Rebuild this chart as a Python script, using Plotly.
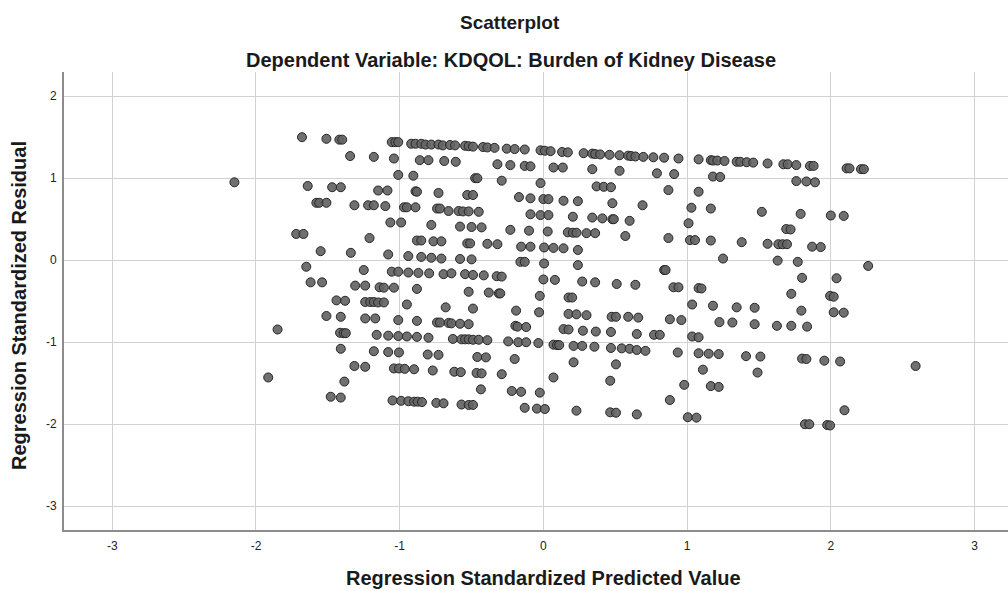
import plotly.graph_objects as go

pred = [
    -2.15,
    -1.68, -1.51, -1.42, -1.40, -1.055, -1.03, -1.01, -0.92, -0.89, -0.85, -0.82, -0.78, -0.73, -0.70,
    -1.345, -1.18, -1.04, -0.86, -0.80, -0.69, -0.61,
    -1.01, -0.905,
    -1.64, -1.47, -1.41, -1.15, -1.085, -0.89, -0.88, -0.73,
    -1.58, -1.56, -1.51, -1.315, -1.22, -1.18, -1.10, -0.97, -0.95, -0.89, -0.74, -0.72,
    -1.065, -0.99, -0.78,
    -1.72, -1.67, -1.21, -0.88, -0.85, -0.765, -0.71,
    -1.55, -1.34, -1.08, -0.94, -0.85, -0.78, -0.71,
    -1.65, -1.25, -1.055, -1.01, -0.94, -0.87, -0.795, -0.695,
    -1.62, -1.54,
    -0.65, -0.615, -0.545, -0.52, -0.49, -0.42, -0.39, -0.34, -0.255, -0.20, -0.13, -0.02, 0.01, 0.05,
    0.13, 0.17, 0.28, 0.34, 0.36, 0.395, 0.46, 0.53, 0.59,
    -0.32, -0.23, -0.13, -0.09, 0.07, 0.135, 0.34, 0.53,
    -0.475, -0.46, -0.29, -0.02, 0.37, 0.42, 0.47,
    -0.53, -0.49, -0.17, -0.09, 0.0, 0.035, 0.14, 0.24, 0.48,
    -0.66, -0.59, -0.56, -0.52, -0.45, -0.09, -0.02, 0.035, 0.205, 0.34, 0.41, 0.48, 0.49, 0.60,
    -0.58, -0.50, -0.43, -0.23, -0.10, 0.03, 0.17, 0.205, 0.23, 0.30, 0.36, 0.57,
    -0.53, -0.51, -0.39, -0.32, -0.155, -0.09, 0.005, 0.07, 0.14, 0.24,
    -0.58, -0.50, -0.16, -0.13, 0.005, 0.24,
    -0.64, -0.545, -0.49, -0.415, -0.325, -0.29, 0.0, 0.08, 0.27, 0.36, 0.51,
    0.61, 0.64, 0.695, 0.765, 0.84, 0.94, 1.08, 1.165, 1.18, 1.21, 1.26, 1.345, 1.37, 1.415, 1.46,
    1.56, 1.67, 1.70, 1.76, 1.855, 1.88, 2.11, 2.13, 2.21, 2.23,
    0.79, 0.91, 1.18, 1.23, 1.76, 1.83, 1.89,
    0.87, 1.08,
    0.69, 1.03, 1.165, 1.52, 1.79, 2.0, 2.09,
    1.01, 1.69, 1.72,
    0.87, 1.02, 1.055, 1.165, 1.38, 1.56, 1.635, 1.665, 1.695, 1.87, 1.93,
    1.25, 1.63, 1.77, 2.26, 0.84, 0.85, 1.80, 2.04,
    -1.31, -1.24, -1.14, -1.11, -1.04, -0.88,
    -1.44, -1.38, -1.24, -1.205, -1.18, -1.15, -1.11, -0.95, -0.68,
    -1.51, -1.41, -1.24, -1.17, -1.01, -0.88, -0.74, -0.72, -0.66, -0.64, -0.58, -0.52,
    -1.85,
    -1.415, -1.39, -1.375, -1.16, -1.08, -1.01, -0.95, -0.88, -0.80,
    -0.63, -0.57, -0.545, -0.52, -0.49, -0.45, -0.39, -0.245, -0.175, -0.12, -0.035, 0.07, 0.095, 0.11,
    0.21, 0.27, 0.355, 0.47, 0.545, 0.60, 0.65, 0.71, 0.935, 1.08, 1.15, 1.22, 1.41, 1.51, 1.80, 1.83,
    1.955, 2.065, 2.59,
    -1.41, -1.18, -1.08, -1.005, -0.805, -0.73, -0.46, -0.40, -0.20, 0.21, 0.505, 1.11, 1.49,
    -1.315, -1.24, -1.04, -1.005, -0.965, -0.90, -0.77, -0.62, -0.575, -0.465, -0.43, -0.29, 0.07, 0.465,
    -1.915, -1.385,
    0.98, 1.165, 1.22, 0.88, 0.65, 1.005, 1.065, 1.82, 1.85, 1.975, 1.995, 2.095,
    -0.435, -0.22, -0.155, -0.025,
    -1.48, -1.41, -1.05, -0.99, -0.94, -0.90, -0.875, -0.845, -0.745, -0.695, -0.57, -0.52, -0.49,
    -0.13, -0.045, 0.01, 0.23, 0.465, 0.505,
    -0.52, -0.38, -0.31, -0.30, -0.025, 0.175, 0.20,
    -0.49, -0.19, -0.03, 0.175, 0.23, 0.30, 0.475, 0.505, 0.59, 0.66,
    0.88, 0.96, 1.225, 1.315, 1.47, 1.625, 1.725, 1.835,
    -0.195, -0.18, -0.12, 0.14, 0.175, 0.275, 0.365, 0.47, 0.65, 0.77, 0.81, 1.035, 1.08,
    0.64, 0.905, 0.94, 1.08, 1.10, 1.035, 1.18, 1.345, 1.47, 1.725, 1.795,
    1.995, 2.02, 2.02, 2.09,
]

resid = [
    0.95,
    1.50, 1.48, 1.47, 1.47, 1.44, 1.44, 1.44, 1.42, 1.42, 1.42, 1.41, 1.41, 1.41, 1.40,
    1.27, 1.26, 1.24, 1.22, 1.22, 1.21, 1.20,
    1.04, 1.03,
    0.905, 0.89, 0.89, 0.85, 0.85, 0.84, 0.835, 0.82,
    0.70, 0.70, 0.70, 0.67, 0.67, 0.67, 0.66, 0.645, 0.645, 0.645, 0.63, 0.63,
    0.46, 0.46, 0.43,
    0.32, 0.32, 0.27, 0.24, 0.24, 0.23, 0.23,
    0.11, 0.09, 0.07, 0.05, 0.04, 0.03, 0.02,
    -0.08, -0.12, -0.14, -0.14, -0.15, -0.155, -0.16, -0.17,
    -0.27, -0.27,
    1.405, 1.40, 1.395, 1.39, 1.385, 1.38, 1.375, 1.37, 1.36, 1.355, 1.35, 1.34, 1.335, 1.33,
    1.32, 1.315, 1.305, 1.30, 1.295, 1.29, 1.285, 1.28, 1.275,
    1.17, 1.16, 1.15, 1.145, 1.13, 1.13, 1.11, 1.09,
    1.00, 1.00, 0.97, 0.94, 0.90, 0.895, 0.89,
    0.795, 0.795, 0.77, 0.755, 0.745, 0.745, 0.725, 0.72, 0.695,
    0.60, 0.60, 0.595, 0.595, 0.59, 0.56, 0.55, 0.55, 0.53, 0.52, 0.51, 0.50, 0.50, 0.48,
    0.41, 0.405, 0.40, 0.37, 0.36, 0.35, 0.34, 0.335, 0.335, 0.33, 0.33, 0.295,
    0.205, 0.205, 0.20, 0.195, 0.165, 0.165, 0.155, 0.15, 0.145, 0.125,
    0.015, 0.01, -0.02, -0.02, -0.04, -0.06,
    -0.16, -0.17, -0.18, -0.185, -0.195, -0.20, -0.235, -0.24, -0.26, -0.27, -0.29,
    1.27, 1.265, 1.26, 1.255, 1.25, 1.24, 1.23, 1.22, 1.215, 1.215, 1.21, 1.20, 1.20, 1.195, 1.19,
    1.18, 1.17, 1.17, 1.16, 1.15, 1.15, 1.12, 1.12, 1.11, 1.11,
    1.06, 1.05, 1.02, 1.015, 0.965, 0.96, 0.95,
    0.855, 0.835,
    0.67, 0.64, 0.63, 0.59, 0.565, 0.545, 0.54,
    0.45, 0.38, 0.375,
    0.27, 0.245, 0.245, 0.24, 0.22, 0.20, 0.195, 0.195, 0.195, 0.165, 0.16,
    0.02, -0.005, -0.02, -0.07, -0.12, -0.12, -0.215, -0.22,
    -0.31, -0.31, -0.33, -0.335, -0.335, -0.35,
    -0.49, -0.495, -0.51, -0.51, -0.51, -0.515, -0.515, -0.54, -0.575,
    -0.68, -0.69, -0.71, -0.71, -0.73, -0.74, -0.76, -0.76, -0.765, -0.77, -0.775, -0.78,
    -0.845,
    -0.885, -0.89, -0.89, -0.91, -0.92, -0.925, -0.93, -0.935, -0.945,
    -0.96, -0.965, -0.965, -0.965, -0.97, -0.97, -0.975, -0.99, -1.0, -1.0, -1.01, -1.03, -1.035, -1.035,
    -1.045, -1.045, -1.055, -1.07, -1.075, -1.08, -1.095, -1.105, -1.125, -1.135, -1.14, -1.145, -1.17, -1.175, -1.20, -1.205,
    -1.225, -1.235, -1.29,
    -1.08, -1.11, -1.12, -1.125, -1.15, -1.155, -1.18, -1.185, -1.205, -1.245, -1.27, -1.335, -1.37,
    -1.29, -1.30, -1.32, -1.32, -1.325, -1.33, -1.345, -1.36, -1.365, -1.375, -1.38, -1.39, -1.43, -1.47,
    -1.43, -1.48,
    -1.52, -1.535, -1.545, -1.705, -1.88, -1.915, -1.92, -2.0, -2.0, -2.01, -2.015, -1.83,
    -1.575, -1.595, -1.605, -1.615,
    -1.665, -1.675, -1.71, -1.715, -1.72, -1.725, -1.725, -1.73, -1.74, -1.745, -1.76, -1.765, -1.765,
    -1.80, -1.81, -1.815, -1.835, -1.855, -1.86,
    -0.385, -0.395, -0.405, -0.405, -0.435, -0.455, -0.455,
    -0.59, -0.615, -0.635, -0.655, -0.66, -0.67, -0.69, -0.69, -0.69, -0.70,
    -0.72, -0.73, -0.755, -0.76, -0.78, -0.80, -0.80, -0.81,
    -0.80, -0.81, -0.815, -0.84, -0.845, -0.86, -0.87, -0.875, -0.90, -0.91, -0.91, -0.93, -0.94,
    -0.30, -0.33, -0.33, -0.34, -0.345, -0.54, -0.555, -0.575, -0.58, -0.41, -0.615,
    -0.435, -0.445, -0.635, -0.64,
]

x_ticks = [-3, -2, -1, 0, 1, 2, 3]
x_tick_labels = ["-3", "-2", "-1", "0", "1", "2", "3"]
y_ticks = [-3, -2, -1, 0, 1, 2]
y_tick_labels = ["-3", "-2", "-1", "0", "1", "2"]

FONT = "Liberation Sans, Arial, sans-serif"

fig = go.Figure()
fig.add_trace(go.Scatter(
    x=pred, y=resid, mode="markers",
    marker=dict(size=9, color="rgba(100,100,100,0.92)",
                line=dict(color="#262626", width=1)),
    showlegend=False, hoverinfo="skip",
))

fig.update_layout(
    width=1008, height=591,
    margin=dict(l=64, r=0, t=72, b=61),
    paper_bgcolor="white", plot_bgcolor="white",
    font=dict(family=FONT, color="#1a1a1a"),
    xaxis=dict(range=[-3.336, 3.233], tickvals=x_ticks, ticktext=x_tick_labels,
               showgrid=True, gridcolor="#d2d2d2", gridwidth=1, zeroline=False,
               showline=True, linecolor="#8c8c8c", linewidth=2,
               ticks="", ticklabelstandoff=4,
               tickfont=dict(size=12, color="#222")),
    yaxis=dict(range=[-3.29, 2.295], tickvals=y_ticks, ticktext=y_tick_labels,
               showgrid=True, gridcolor="#d2d2d2", gridwidth=1, zeroline=False,
               showline=True, linecolor="#8c8c8c", linewidth=2,
               ticks="", ticklabelstandoff=3,
               tickfont=dict(size=12, color="#222")),
    annotations=[
        dict(text="<b>Scatterplot</b>", xref="paper", yref="paper",
             x=(510 - 64) / 944, y=(530 - 22) / 458, xanchor="center",
             yanchor="middle", showarrow=False, font=dict(size=19)),
        dict(text="<b>Dependent Variable: KDQOL: Burden of Kidney Disease</b>",
             xref="paper", yref="paper", x=(511 - 64) / 944,
             y=(530 - 60) / 458, xanchor="center", yanchor="middle",
             showarrow=False, font=dict(size=20)),
        dict(text="<b>Regression Standardized Predicted Value</b>",
             xref="paper", yref="paper", x=(543 - 64) / 944,
             y=(530 - 578) / 458, xanchor="center", yanchor="middle",
             showarrow=False, font=dict(size=20)),
        dict(text="<b>Regression Standardized Residual</b>",
             xref="paper", yref="paper", x=(19 - 64) / 944,
             y=(530 - 306) / 458, xanchor="center", yanchor="middle",
             textangle=-90, showarrow=False, font=dict(size=20)),
    ],
)

fig.write_html("out.html")
